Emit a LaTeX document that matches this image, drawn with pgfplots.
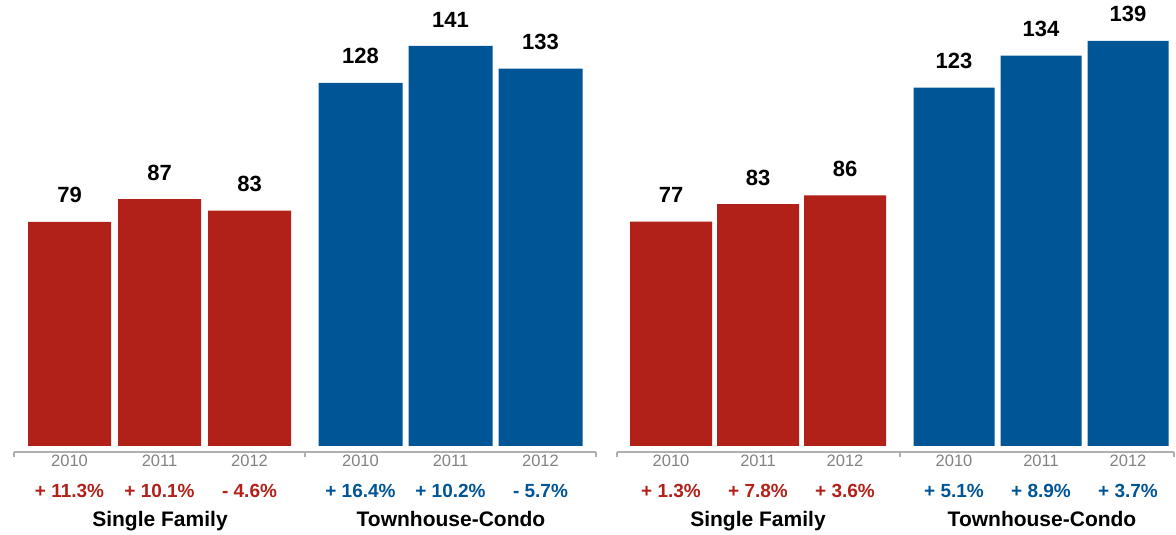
\documentclass[border=0pt]{standalone}
\usepackage{pgfplots}
\pgfplotsset{compat=1.18}
\usepackage{fontspec}
\setmainfont{Liberation Sans}
\definecolor{sfred}{RGB}{178,32,26}
\definecolor{tcblue}{RGB}{0,85,150}
\definecolor{yeargrey}{RGB}{130,130,130}
\definecolor{axgrey}{RGB}{175,175,175}
\newcommand{\pr}[1]{{\fontsize{19}{19}\selectfont\bfseries\color{sfred}#1}}
\newcommand{\pb}[1]{{\fontsize{19}{19}\selectfont\bfseries\color{tcblue}#1}}
\pgfplotsset{
 panel/.style={
  axis x line*=bottom, axis y line=none,
  axis line style={axgrey, line width=2pt},
  ybar, bar shift=0pt,
  major tick length=0pt,
  xticklabel style={align=center, text=yeargrey, font=\fontsize{16.5}{18}\selectfont, inner sep=0pt, anchor=north, yshift=-3pt},
  extra x tick style={major tick length=5pt, xtick align=outside, tick style={axgrey, line width=2pt}},
  extra x tick labels={},
  nodes near coords,
  nodes near coords style={font=\fontsize{22}{22}\selectfont\bfseries, inner sep=0pt, anchor=south, yshift=18.5pt, text=black},
  /pgf/number format/assume math mode=true,
  clip=false,
  anchor=south west,
 }
}
\begin{document}
\begin{tikzpicture}
\path[use as bounding box] (0,0) rectangle (1176pt,535pt);
% left panel
\begin{axis}[panel, at={(14pt,83pt)}, x=90pt, y=2.837pt,
  xmin=-0.617, xmax=5.85, ymin=-2.115, ymax=157.2,
  xtick={0,1,2,3.233,4.233,5.233},
  xticklabels={{2010\\[13pt]\pr{+ 11.3\%}},{2011\\[13pt]\pr{+ 10.1\%}},{2012\\[13pt]\pr{- 4.6\%}},
               {2010\\[13pt]\pb{+ 16.4\%}},{2011\\[13pt]\pb{+ 10.2\%}},{2012\\[13pt]\pb{- 5.7\%}}},
  extra x ticks={-0.617,2.617,5.85}]
\addplot[fill=sfred, draw=none, bar width=83pt] coordinates {(0,79) (1,87) (2,83)};
\addplot[fill=tcblue, draw=none, bar width=84pt] coordinates {(3.233,128) (4.233,141) (5.233,133)};
\end{axis}
% right panel
\begin{axis}[panel, at={(617pt,83pt)}, x=87pt, y=2.914pt,
  xmin=-0.621, xmax=5.78, ymin=-2.06, ymax=153.1,
  xtick={0,1,2,3.253,4.253,5.253},
  xticklabels={{2010\\[13pt]\pr{+ 1.3\%}},{2011\\[13pt]\pr{+ 7.8\%}},{2012\\[13pt]\pr{+ 3.6\%}},
               {2010\\[13pt]\pb{+ 5.1\%}},{2011\\[13pt]\pb{+ 8.9\%}},{2012\\[13pt]\pb{+ 3.7\%}}},
  extra x ticks={-0.621,2.632,5.78}]
\addplot[fill=sfred, draw=none, bar width=82pt] coordinates {(0,77) (1,83) (2,86)};
\addplot[fill=tcblue, draw=none, bar width=81pt] coordinates {(3.253,123) (4.253,134) (5.253,139)};
\end{axis}
\node[font=\fontsize{21}{21}\selectfont\bfseries, anchor=base] at (160pt,8pt) {Single Family};
\node[font=\fontsize{21}{21}\selectfont\bfseries, anchor=base] at (451pt,8pt) {Townhouse-Condo};
\node[font=\fontsize{21}{21}\selectfont\bfseries, anchor=base] at (758pt,8pt) {Single Family};
\node[font=\fontsize{21}{21}\selectfont\bfseries, anchor=base] at (1042pt,8pt) {Townhouse-Condo};
\end{tikzpicture}
\end{document}
